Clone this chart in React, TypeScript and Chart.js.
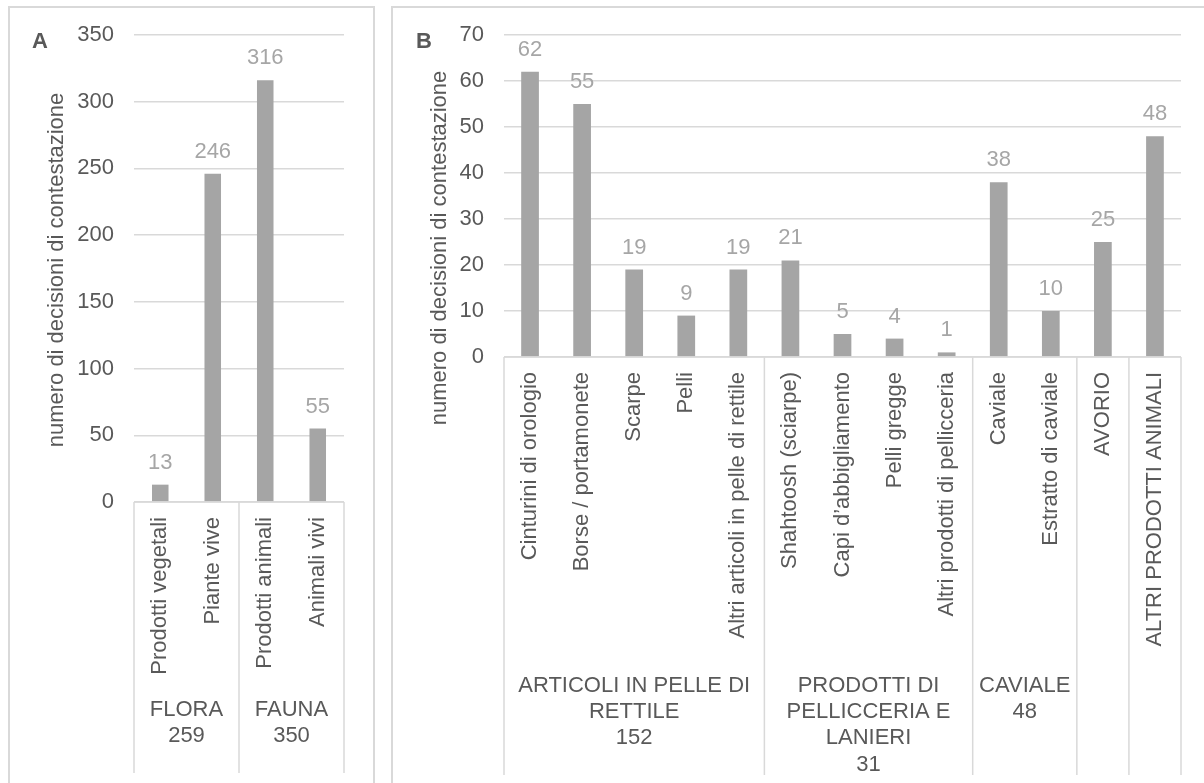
import React, { useEffect, useRef } from 'react';
import { Chart, registerables } from 'chart.js';

Chart.register(...registerables);

const FONT = '"Liberation Sans", Arial, sans-serif';
const TEXT = '#595959';
const VALUE_TEXT = '#A6A6A6';
const BAR = '#A5A5A5';
const GRID = '#D9D9D9';
const FONT_SIZE = 22;

Chart.defaults.font.family = FONT;
Chart.defaults.font.size = FONT_SIZE;
Chart.defaults.color = TEXT;

const AXIS_TITLE = 'numero di decisioni di contestazione';

// Panel A: flora and fauna
const labelsA = ['Prodotti vegetali', 'Piante vive', 'Prodotti animali', 'Animali vivi'];
const valuesA = [13, 246, 316, 55];
const groupNamesA = ['FLORA', 'FAUNA'];
const groupTotalsA = ['259', '350'];
const groupSpansA = [2, 2];
const yMaxA = 350;
const yStepA = 50;

// Panel B: animal products in detail
const labelsB = [
  'Cinturini di orologio',
  'Borse / portamonete',
  'Scarpe',
  'Pelli',
  'Altri articoli in pelle di rettile',
  'Shahtoosh (sciarpe)',
  'Capi d\u2019abbigliamento',
  'Pelli gregge',
  'Altri prodotti di pellicceria',
  'Caviale',
  'Estratto di caviale',
  'AVORIO',
  'ALTRI PRODOTTI ANIMALI',
];
const valuesB = [62, 55, 19, 9, 19, 21, 5, 4, 1, 38, 10, 25, 48];
const groupNamesB = ['ARTICOLI IN PELLE DI RETTILE', 'PRODOTTI DI PELLICCERIA E LANIERI', 'CAVIALE', '', ''];
const groupTotalsB = ['152', '31', '48', '', ''];
const groupSpansB = [5, 4, 2, 1, 1];
const yMaxB = 70;
const yStepB = 10;

function wrapWords(ctx: CanvasRenderingContext2D, text: string, maxWidth: number): string[] {
  const words = text.split(' ').filter(Boolean);
  const lines: string[] = [];
  let line = '';
  for (const w of words) {
    const candidate = line ? line + ' ' + w : w;
    if (line && ctx.measureText(candidate).width > maxWidth) {
      lines.push(line);
      line = w;
    } else {
      line = candidate;
    }
  }
  if (line) lines.push(line);
  return lines;
}

// Two-level category axis, axis title, value labels and panel tag
const multiLevelAxis = {
  id: 'multiLevelAxis',
  afterDatasetsDraw(chart: any, _args: any, opts: any) {
    const { ctx, chartArea } = chart;
    const xs = chart.scales.x;
    const ys = chart.scales.y;
    const labels: string[] = chart.data.labels;
    const values: number[] = chart.data.datasets[0].data;
    const y0 = ys.getPixelForValue(0);
    const step = labels.length > 1 ? xs.getPixelForValue(1) - xs.getPixelForValue(0) : chartArea.width;
    const edge = (k: number) => xs.getPixelForValue(0) - step / 2 + k * step;

    ctx.save();
    ctx.strokeStyle = GRID;
    ctx.lineWidth = 1.5;

    // axis line
    ctx.beginPath();
    ctx.moveTo(chartArea.left, y0);
    ctx.lineTo(chartArea.right, y0);
    ctx.stroke();

    // group separators
    const bounds = [0];
    let acc = 0;
    (opts.spans as number[]).forEach((s) => {
      acc += s;
      bounds.push(acc);
    });
    bounds.forEach((b) => {
      const px = edge(b);
      ctx.beginPath();
      ctx.moveTo(px, y0);
      ctx.lineTo(px, opts.lineBottom);
      ctx.stroke();
    });

    ctx.font = `${FONT_SIZE}px ${FONT}`;
    ctx.fillStyle = TEXT;

    // vertical axis title
    ctx.save();
    ctx.translate(opts.titleX, opts.titleY);
    ctx.rotate(-Math.PI / 2);
    ctx.textAlign = 'center';
    ctx.textBaseline = 'middle';
    ctx.fillText(AXIS_TITLE, 0, 0);
    ctx.restore();

    // rotated category labels
    labels.forEach((lab, i) => {
      const px = xs.getPixelForValue(i);
      ctx.save();
      ctx.translate(px, y0 + opts.labelGap);
      ctx.rotate(-Math.PI / 2);
      ctx.textAlign = 'right';
      ctx.textBaseline = 'middle';
      ctx.fillText(lab, 0, 0);
      ctx.restore();
    });

    // group labels with totals
    ctx.textAlign = 'center';
    ctx.textBaseline = 'alphabetic';
    (opts.names as string[]).forEach((name, g) => {
      if (!name) return;
      const left = edge(bounds[g]);
      const right = edge(bounds[g + 1]);
      const cx = (left + right) / 2;
      const lines = wrapWords(ctx, name, right - left - 8);
      lines.push(opts.totals[g]);
      lines.forEach((ln: string, j: number) => {
        ctx.fillText(ln, cx, opts.groupBaseline + j * FONT_SIZE * 1.2);
      });
    });

    // value labels above the bars
    ctx.fillStyle = VALUE_TEXT;
    const meta = chart.getDatasetMeta(0);
    meta.data.forEach((bar: any, i: number) => {
      ctx.fillText(String(values[i]), bar.x, bar.y - 16);
    });

    // panel tag
    ctx.fillStyle = TEXT;
    ctx.textAlign = 'left';
    ctx.font = `bold ${FONT_SIZE}px ${FONT}`;
    ctx.fillText(opts.tag, opts.tagX, opts.tagY);

    ctx.restore();
  },
};

type PanelProps = {
  labels: string[];
  values: number[];
  names: string[];
  totals: string[];
  spans: number[];
  yMax: number;
  yStep: number;
  tag: string;
  width: number;
  height: number;
  axisWidth: number;
  padTop: number;
  padRight: number;
  plotBottom: number;
  titleX: number;
  titleY: number;
  barPct: number;
  groupBaseline: number;
  lineBottom: number;
};

function Panel(p: PanelProps) {
  const ref = useRef<HTMLCanvasElement | null>(null);
  useEffect(() => {
    if (!ref.current) return;
    const chart = new Chart(ref.current, {
      type: 'bar',
      data: {
        labels: p.labels,
        datasets: [
          {
            data: p.values,
            backgroundColor: BAR,
            borderWidth: 0,
            barPercentage: p.barPct,
            categoryPercentage: 1,
          },
        ],
      },
      options: {
        responsive: false,
        animation: false,
        devicePixelRatio: 1,
        layout: { padding: { top: p.padTop, right: p.padRight, left: 0, bottom: 0 } },
        plugins: {
          legend: { display: false },
          tooltip: { enabled: false },
          multiLevelAxis: {
            names: p.names,
            totals: p.totals,
            spans: p.spans,
            labelGap: 15,
            groupBaseline: p.groupBaseline,
            lineBottom: p.lineBottom,
            titleX: p.titleX,
            titleY: p.titleY,
            tag: p.tag,
            tagX: 22,
            tagY: 40,
          },
        } as any,
        scales: {
          x: {
            ticks: { display: false },
            grid: { display: false },
            border: { display: false },
            afterFit: (s: any) => {
              s.height = p.height - p.plotBottom;
            },
          },
          y: {
            min: 0,
            max: p.yMax,
            ticks: {
              stepSize: p.yStep,
              padding: 0,
              color: TEXT,
              font: { family: FONT, size: FONT_SIZE },
            },
            // invisible tick marks keep the labels clear of the plot
            grid: {
              color: GRID,
              lineWidth: 1.5,
              drawTicks: true,
              tickLength: 20,
              tickColor: 'rgba(0,0,0,0)',
            },
            border: { display: false },
            afterFit: (s: any) => {
              s.width = p.axisWidth;
            },
          },
        },
      },
      plugins: [multiLevelAxis],
    });
    return () => chart.destroy();
  }, []);
  return <canvas ref={ref} width={p.width} height={p.height} style={{ width: p.width, height: p.height, display: 'block' }} />;
}

export default function App() {
  return (
    <div style={{ position: 'fixed', inset: 0, overflow: 'hidden', background: '#fff' }}>
      <div
        style={{
          position: 'absolute',
          left: 8,
          top: 6,
          width: 367,
          height: 820,
          border: `2px solid ${GRID}`,
          boxSizing: 'border-box',
        }}
      />
      <div
        style={{
          position: 'absolute',
          left: 391,
          top: 6,
          width: 860,
          height: 820,
          border: `2px solid ${GRID}`,
          boxSizing: 'border-box',
        }}
      />
      <div style={{ position: 'absolute', left: 10, top: 8 }}>
        <Panel
          labels={labelsA}
          values={valuesA}
          names={groupNamesA}
          totals={groupTotalsA}
          spans={groupSpansA}
          yMax={yMaxA}
          yStep={yStepA}
          tag="A"
          width={362}
          height={775}
          axisWidth={124}
          padTop={27}
          padRight={28}
          plotBottom={494}
          titleX={47}
          titleY={262}
          barPct={0.315}
          groupBaseline={708}
          lineBottom={765}
        />
      </div>
      <div style={{ position: 'absolute', left: 394, top: 8 }}>
        <Panel
          labels={labelsB}
          values={valuesB}
          names={groupNamesB}
          totals={groupTotalsB}
          spans={groupSpansB}
          yMax={yMaxB}
          yStep={yStepB}
          tag="B"
          width={810}
          height={775}
          axisWidth={110}
          padTop={27}
          padRight={23}
          plotBottom={349}
          titleX={46}
          titleY={240}
          barPct={0.34}
          groupBaseline={683.5}
          lineBottom={767}
        />
      </div>
    </div>
  );
}
